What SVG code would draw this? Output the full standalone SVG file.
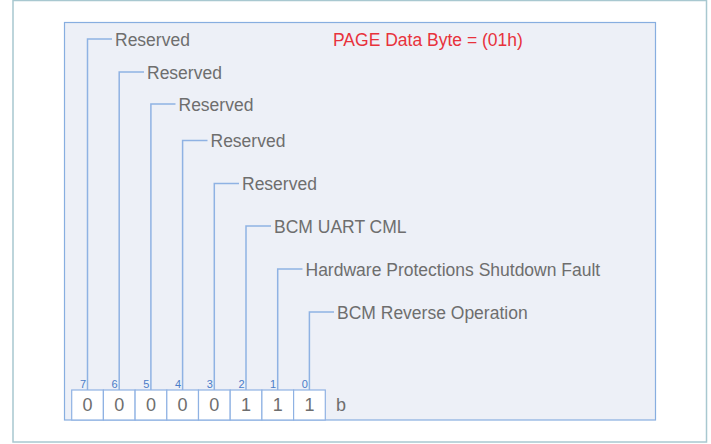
<svg xmlns="http://www.w3.org/2000/svg" width="711" height="444" viewBox="0 0 711 444">
<style>
.lbl{font-family:"Liberation Sans",Arial,sans-serif;font-size:17.5px;fill:#6e6e6e}
.bit{font-family:"Liberation Sans",Arial,sans-serif;font-size:11px;fill:#4a7cc8;text-anchor:end}
.val{font-family:"Liberation Sans",Arial,sans-serif;font-size:18px;fill:#6e6e6e;text-anchor:middle}
.ln{fill:none;stroke:#8fb2e3;stroke-width:1.5}
.box{fill:#ffffff;stroke:#8fb2e3;stroke-width:1.2}
</style>
<rect x="13" y="0.5" width="693.5" height="441.5" fill="#ffffff" stroke="#a8c8d0" stroke-width="1.5"/>
<rect x="64.5" y="22.5" width="591" height="397.5" fill="#edf0f7" stroke="#87aee0" stroke-width="1.2"/>
<text id="title" class="lbl" x="333" y="46" style="fill:#e8323c">PAGE Data Byte = (01h)</text>
<g id="connectors">
<path class="ln" d="M87.5,390 V39 H112"/>
<path class="ln" d="M119.2,390 V72 H144"/>
<path class="ln" d="M150.9,390 V104 H175.5"/>
<path class="ln" d="M182.6,390 V140.5 H207.5"/>
<path class="ln" d="M214.3,390 V183.5 H239"/>
<path class="ln" d="M246,390 V226 H271"/>
<path class="ln" d="M277.7,390 V269 H302.5"/>
<path class="ln" d="M309.4,390 V312 H334"/>
</g>
<g id="label7"><text class="lbl" x="115" y="45.5">Reserved</text></g>
<g id="label6"><text class="lbl" x="147" y="78.5">Reserved</text></g>
<g id="label5"><text class="lbl" x="178.5" y="110.5">Reserved</text></g>
<g id="label4"><text class="lbl" x="210.5" y="147">Reserved</text></g>
<g id="label3"><text class="lbl" x="242" y="190">Reserved</text></g>
<g id="label2"><text class="lbl" x="274" y="232.5">BCM UART CML</text></g>
<g id="label1"><text class="lbl" x="305.5" y="275.5">Hardware Protections Shutdown Fault</text></g>
<g id="label0"><text class="lbl" x="337" y="318.5">BCM Reverse Operation</text></g>
<g id="bits">
<g id="bit7"><rect class="box" x="71.7" y="390" width="31.7" height="30"/><text class="val" x="87.5" y="411">0</text><text class="bit" x="86" y="388">7</text></g>
<g id="bit6"><rect class="box" x="103.4" y="390" width="31.7" height="30"/><text class="val" x="119.2" y="411">0</text><text class="bit" x="117.7" y="388">6</text></g>
<g id="bit5"><rect class="box" x="135.1" y="390" width="31.7" height="30"/><text class="val" x="150.9" y="411">0</text><text class="bit" x="149.4" y="388">5</text></g>
<g id="bit4"><rect class="box" x="166.8" y="390" width="31.7" height="30"/><text class="val" x="182.6" y="411">0</text><text class="bit" x="181.1" y="388">4</text></g>
<g id="bit3"><rect class="box" x="198.5" y="390" width="31.7" height="30"/><text class="val" x="214.3" y="411">0</text><text class="bit" x="212.8" y="388">3</text></g>
<g id="bit2"><rect class="box" x="230.2" y="390" width="31.7" height="30"/><text class="val" x="246" y="411">1</text><text class="bit" x="244.5" y="388">2</text></g>
<g id="bit1"><rect class="box" x="261.9" y="390" width="31.7" height="30"/><text class="val" x="277.7" y="411">1</text><text class="bit" x="276.2" y="388">1</text></g>
<g id="bit0"><rect class="box" x="293.6" y="390" width="31.7" height="30"/><text class="val" x="309.4" y="411">1</text><text class="bit" x="307.9" y="388">0</text></g>
</g>
<text id="suffix" class="lbl" x="336" y="411" style="font-size:18px">b</text>
</svg>
